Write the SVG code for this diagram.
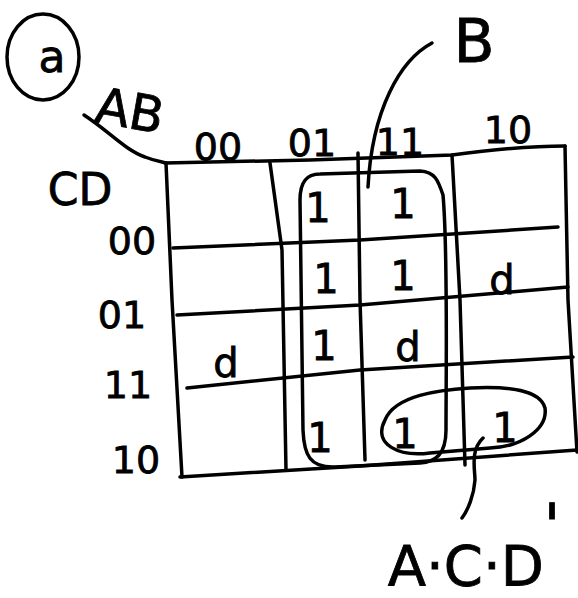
<svg xmlns="http://www.w3.org/2000/svg" width="578" height="598" viewBox="0 0 578 598">
<style>
.ln{fill:none;stroke:#000;stroke-width:3.5;stroke-linecap:round;stroke-linejoin:round}
.t{font-family:"DejaVu Sans","Liberation Sans",sans-serif;fill:#000;stroke:#000;stroke-width:0.8}
.c{font-size:40px;text-anchor:middle}
.h{font-size:38px;text-anchor:middle}
</style>
<rect width="578" height="598" fill="#fff"/>
<g id="title">
<ellipse class="ln" cx="43" cy="57" rx="36" ry="43"/>
<text class="t" x="52" y="72" font-size="44" text-anchor="middle">a</text>
</g>
<g id="axis">
<path class="ln" d="M84,115 C110,132 125,150 145,157 C155,161 162,162 166,163"/>
<text class="t" x="130" y="128" font-size="50" text-anchor="middle" transform="rotate(10 130 110)">AB</text>
<text class="t" x="80" y="205" font-size="44" text-anchor="middle">CD</text>
</g>
<g id="col-headers">
<text class="t h" x="218" y="160">00</text>
<text class="t h" x="312" y="156">01</text>
<text class="t h" x="400" y="155">11</text>
<text class="t h" x="508" y="143">10</text>
</g>
<g id="row-headers">
<text class="t h" x="132" y="254">00</text>
<text class="t h" x="122" y="328">01</text>
<text class="t h" x="128" y="398">11</text>
<text class="t h" x="136" y="473">10</text>
</g>
<g id="grid">
<path class="ln" d="M165,163 L310,160 L452,155 C490,150 530,146 565,146"/>
<path class="ln" d="M173,248 L360,240 L558,227"/>
<path class="ln" d="M177,315 L360,305 L568,287"/>
<path class="ln" d="M187,388 L360,370 L573,357"/>
<path class="ln" d="M180,477 L360,466 L577,450"/>
<path class="ln" d="M166,163 L172,300 L182,477"/>
<path class="ln" d="M270,163 L282,250 L286,470"/>
<path class="ln" d="M358,153 L360,300 L365,460"/>
<path class="ln" d="M452,155 L460,300 L465,465"/>
<path class="ln" d="M565,146 L568,300 L577,452"/>
</g>
<g id="cells">
<text class="t c" x="318" y="222">1</text>
<text class="t c" x="403" y="218">1</text>
<text class="t c" x="326" y="293">1</text>
<text class="t c" x="403" y="290">1</text>
<text class="t c" x="502" y="294" font-size="48">d</text>
<text class="t c" x="226" y="377" font-size="44">d</text>
<text class="t c" x="324" y="360">1</text>
<text class="t c" x="408" y="361" font-size="48">d</text>
<text class="t c" x="320" y="452">1</text>
<text class="t c" x="405" y="448">1</text>
<text class="t c" x="505" y="442">1</text>
</g>
<g id="loop-B">
<path class="ln" d="M320,174 L420,171 C435,172 438,180 443,195 C448,250 446,380 446,430 C446,455 435,462 420,463 L335,467 C310,468 304,455 303,430 L300,200 C300,180 308,174 320,174 Z"/>
</g>
<g id="loop-ACD">
<path class="ln" d="M385,420 C395,395 440,390 470,388 C510,386 540,390 545,408 C548,430 520,447 490,448 L430,453 C400,457 372,445 385,420 Z"/>
</g>
<g id="connectors">
<path class="ln" d="M432,43 C400,60 372,110 368,187"/>
<path class="ln" d="M483,438 C470,450 475,470 475,480 C474,495 468,510 462,518"/>
</g>
<g id="labels">
<text class="t" x="474" y="62" font-size="60" text-anchor="middle">B</text>
<text class="t" x="474" y="585" font-size="56" text-anchor="middle">A·C·D<tspan font-size="60" dy="-38">'</tspan></text>
</g>
</svg>
